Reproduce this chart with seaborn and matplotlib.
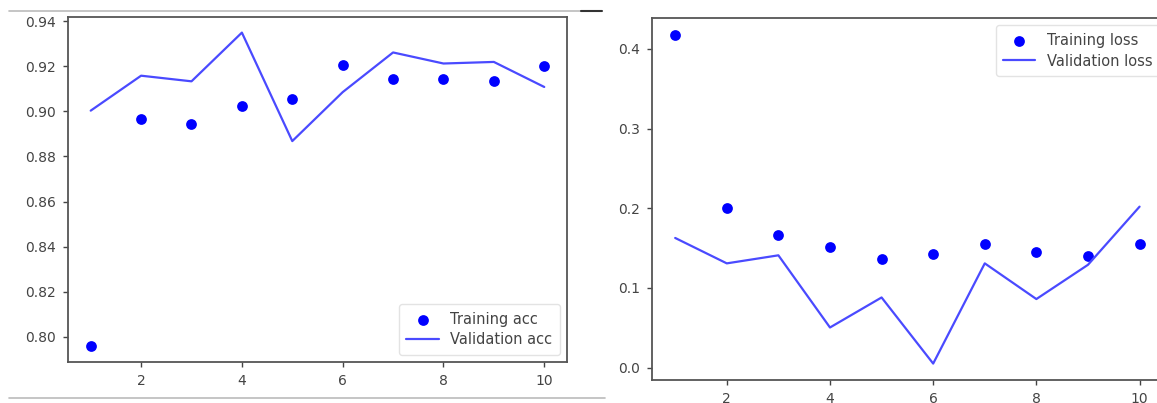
import matplotlib
matplotlib.use("Agg")
import matplotlib.pyplot as plt
from matplotlib.lines import Line2D
import seaborn as sns
import pandas as pd

epochs = [1, 2, 3, 4, 5, 6, 7, 8, 9, 10]
train_acc = [0.7958, 0.8966, 0.8944, 0.9022, 0.9056, 0.9207, 0.9142, 0.9142, 0.9135, 0.9200]
val_acc = [0.9003, 0.9158, 0.9133, 0.9349, 0.8868, 0.9085, 0.9261, 0.9212, 0.9219, 0.9108]
train_loss = [0.418, 0.1997, 0.1665, 0.151, 0.1367, 0.143, 0.1556, 0.1455, 0.1405, 0.1556]
val_loss = [0.1627, 0.1308, 0.1409, 0.0503, 0.088, 0.005, 0.1308, 0.086, 0.129, 0.202]

sns.set_style("ticks")
plt.rcParams['font.family'] = ['DejaVu Sans']

acc = pd.DataFrame({'epoch': epochs, 'train': train_acc, 'val': val_acc})
loss = pd.DataFrame({'epoch': epochs, 'train': train_loss, 'val': val_loss})

fig = plt.figure(figsize=(11.57, 4.03), dpi=100)
ax1 = fig.add_axes([0.0588, 0.1017, 0.4312, 0.8563])
ax2 = fig.add_axes([0.5635, 0.057, 0.4415, 0.898])

dot_color = '#0000ff'
line_color = '#4a4aff'


def draw(ax, df, name, loc, anchor):
    sns.scatterplot(data=df, x='epoch', y='train', ax=ax, color=dot_color, s=60,
                    edgecolor=dot_color, linewidth=0, label='Training ' + name)
    sns.lineplot(data=df, x='epoch', y='val', ax=ax, color=line_color, linewidth=1.6,
                 label='Validation ' + name)
    ax.set_xlabel('')
    ax.set_ylabel('')
    ax.set_xticks([2, 4, 6, 8, 10])
    ax.margins(0.05)
    for s in ax.spines.values():
        s.set_color('#555555')
        s.set_linewidth(1.3)
    ax.tick_params(colors='#444444', labelsize=10, length=3.5, width=1, pad=5)
    leg = ax.legend(loc=loc, bbox_to_anchor=anchor, fontsize=10.5, frameon=True,
                    borderpad=0.5, handlelength=2.2, labelspacing=0.4)
    for t in leg.get_texts():
        t.set_color('#444444')
    leg.get_frame().set_edgecolor('#dddddd')


draw(ax1, acc, 'acc', 'lower right', (1, 0))
draw(ax2, loss, 'loss', 'upper right', (1.008, 1))
ax1.set_yticks([0.80, 0.82, 0.84, 0.86, 0.88, 0.90, 0.92, 0.94])
ax2.set_yticks([0.0, 0.1, 0.2, 0.3, 0.4])

# screenshot frame lines
fig.add_artist(Line2D([0.008, 0.502], [0.972, 0.972], color='#bbbbbb', linewidth=1.2))
fig.add_artist(Line2D([0.502, 0.52], [0.972, 0.972], color='#333333', linewidth=1.5))
fig.add_artist(Line2D([0.008, 0.523], [0.013, 0.013], color='#bbbbbb', linewidth=1.2))

fig.savefig('out.png', dpi=100)
